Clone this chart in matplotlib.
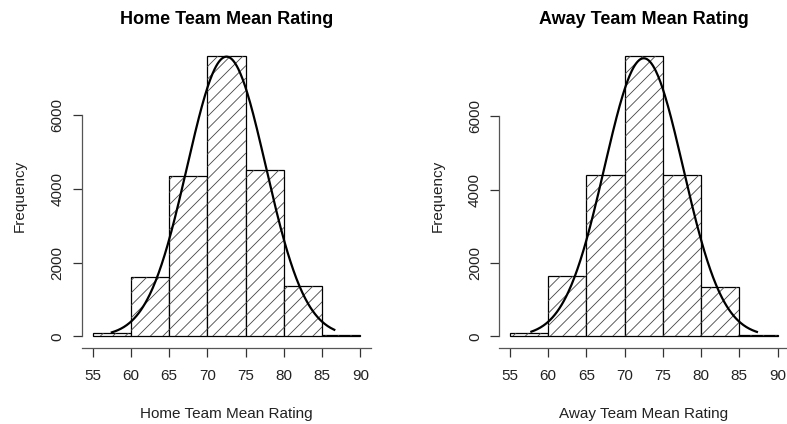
import numpy as np
import matplotlib
matplotlib.use('Agg')
import matplotlib.pyplot as plt
from matplotlib.patches import Rectangle
from matplotlib.transforms import IdentityTransform

plt.rcParams['font.family'] = ['Liberation Sans', 'DejaVu Sans']

# Datos
bins = [55, 60, 65, 70, 75, 80, 85, 90]
home_counts = [81, 1602, 4353, 7621, 4525, 1375, 45]
away_counts = [82, 1639, 4400, 7654, 4400, 1354, 45]

# Curva normal ajustada (media, desviacion, rango dibujado)
home_mean, home_sd = 72.5, 5.15
away_mean, away_sd = 72.5, 5.15
home_range = (57.5, 86.6)
away_range = (57.8, 87.3)

x_ticks = [55, 60, 65, 70, 75, 80, 85, 90]
y_ticks = [0, 2000, 4000, 6000]

fig = plt.figure(figsize=(7.87, 4.24), dpi=100)


def panel(left, counts, mean, sd, rng, name):
    ax = fig.add_axes([left, 0.1802, 0.3672, 0.7152])
    top = max(counts)
    ax.set_xlim(53.6, 91.4)
    ax.set_ylim(-0.04 * top, 1.04 * top)

    width = bins[1] - bins[0]
    bars = []
    for i, c in enumerate(counts):
        r = Rectangle((bins[i], 0), width, c, facecolor='white',
                      edgecolor='black', linewidth=0.9, zorder=3)
        ax.add_patch(r)
        bars.append(r)

    # rayado diagonal como density= de R
    fig.canvas.draw()
    step = 12.5
    for r in bars:
        (x0, y0) = ax.transData.transform((r.get_x(), 0))
        (x1, y1) = ax.transData.transform((r.get_x() + width, r.get_height()))
        cs = np.arange(np.floor((y0 - x1) / step) * step, y1 - x0 + step, step)
        for c in cs:
            ln = plt.Line2D([x0, x1], [x0 + c, x1 + c], color='#444444',
                            linewidth=0.6, transform=IdentityTransform(), zorder=4)
            ax.add_artist(ln)
            ln.set_clip_path(r)

    total = sum(counts)
    xs = np.linspace(rng[0], rng[1], 300)
    ys = total * width * np.exp(-0.5 * ((xs - mean) / sd) ** 2) / (sd * np.sqrt(2 * np.pi))
    ax.plot(xs, ys, color='black', linewidth=1.6, zorder=5)

    for s in ['top', 'right']:
        ax.spines[s].set_visible(False)
    ax.spines['left'].set_bounds(0, 6000)
    ax.spines['left'].set_color('#555555')
    ax.spines['bottom'].set_color('#555555')
    ax.spines['left'].set_linewidth(0.9)
    ax.spines['bottom'].set_linewidth(0.9)

    ax.set_xticks(x_ticks)
    ax.set_yticks(y_ticks)
    ax.tick_params(axis='both', length=6.5, width=0.9, color='#333333',
                   labelsize=11, labelcolor='#222222')
    ax.tick_params(axis='x', pad=9)
    ax.tick_params(axis='y', pad=6, labelrotation=90)
    for t in ax.get_yticklabels():
        t.set_va('center')

    ax.set_title(name, fontsize=13, fontweight='bold', pad=15)
    ax.set_xlabel(name, fontsize=11, labelpad=17, color='#222222')
    ax.set_ylabel('Frequency', fontsize=11, labelpad=17, color='#222222')
    return ax


panel(0.1042, home_counts, home_mean, home_sd, home_range, 'Home Team Mean Rating')
panel(0.6344, away_counts, away_mean, away_sd, away_range, 'Away Team Mean Rating')

fig.savefig('out.png', dpi=100)
